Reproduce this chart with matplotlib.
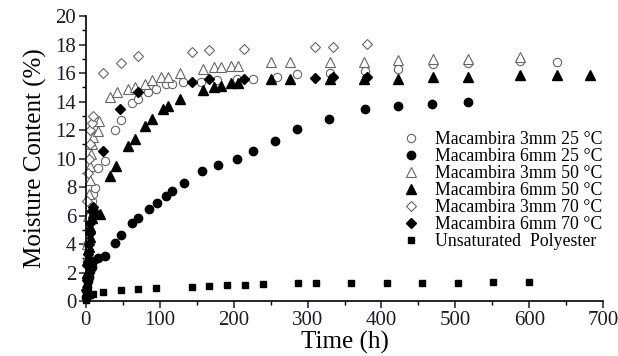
import matplotlib.pyplot as plt
from matplotlib.ticker import MultipleLocator

plt.rcParams["font.family"] = ["Liberation Serif", "DejaVu Serif"]

# Macambira 3mm 25 C (open circles)
t_3mm_25 = [1, 2, 3, 4, 6, 8, 10, 12, 16, 26, 39, 47, 62, 70, 84, 95, 108, 117, 131,
            156, 178, 204, 226, 258, 286, 330, 378, 422, 470, 517, 587, 637]
m_3mm_25 = [1.5, 2.8, 4.0, 5.0, 6.2, 7.0, 7.5, 7.9, 9.3, 9.8, 12.0, 12.7, 13.9, 14.2, 14.7,
            14.9, 15.2, 15.2, 15.4, 15.4, 15.5, 15.6, 15.6, 15.7, 15.9, 16.0, 16.15, 16.3,
            16.6, 16.7, 16.85, 16.8]

# Macambira 6mm 25 C (filled circles)
t_6mm_25 = [0.5, 1, 2, 3, 4, 6, 8, 10, 16, 26, 39, 48, 62, 70, 85, 96, 108, 117, 133,
            157, 179, 204, 226, 256, 286, 329, 378, 422, 469, 517]
m_6mm_25 = [0.3, 0.6, 1.0, 1.4, 1.7, 2.1, 2.4, 2.8, 3.05, 3.15, 4.1, 4.6, 5.5, 5.8, 6.45,
            6.9, 7.4, 7.75, 8.3, 9.15, 9.55, 9.95, 10.5, 11.2, 12.1, 12.8, 13.5, 13.7,
            13.8, 14.0]

# Macambira 3mm 50 C (open triangles)
t_3mm_50 = [1, 2, 3, 4, 5, 6, 7, 8, 10, 12, 16, 18, 32, 42, 57, 66, 80, 90, 102, 111,
            127, 158, 173, 183, 197, 206, 251, 276, 330, 377, 422, 470, 517, 587]
m_3mm_50 = [2.0, 4.0, 6.0, 7.5, 8.5, 9.5, 10.3, 11.0, 11.5, 12.2, 11.9, 12.6, 14.3, 14.7,
            14.9, 15.0, 15.2, 15.5, 15.7, 15.7, 16.0, 16.3, 16.4, 16.4, 16.5, 16.5, 16.8,
            16.8, 16.8, 16.8, 16.9, 17.0, 17.0, 17.1]

# Macambira 6mm 50 C (filled triangles)
t_6mm_50 = [1, 2, 3, 4, 5, 6, 8, 10, 12, 19, 32, 41, 57, 66, 80, 90, 104, 111, 128, 158,
            173, 183, 197, 206, 251, 276, 330, 377, 422, 470, 517, 587, 637, 682]
m_6mm_50 = [1.0, 2.0, 3.0, 3.8, 4.5, 5.2, 5.8, 6.2, 6.4, 6.1, 8.8, 9.5, 10.9, 11.4, 12.3,
            12.8, 13.5, 13.7, 14.2, 14.8, 15.0, 15.1, 15.3, 15.3, 15.6, 15.6, 15.6, 15.6,
            15.6, 15.7, 15.7, 15.85, 15.85, 15.85]

# Macambira 3mm 70 C (open diamonds)
t_3mm_70 = [1, 2, 3, 4, 5, 6, 8, 10, 23, 48, 70, 143, 167, 214, 310, 334, 380]
m_3mm_70 = [4.0, 7.0, 9.0, 10.0, 11.0, 12.0, 12.5, 13.0, 16.0, 16.7, 17.2, 17.5, 17.6,
            17.7, 17.8, 17.8, 18.05]

# Macambira 6mm 70 C (filled diamonds)
t_6mm_70 = [0.5, 1, 2, 3, 4, 5, 6, 8, 10, 23, 46, 70, 143, 167, 214, 310, 334, 380]
m_6mm_70 = [0.8, 1.5, 2.5, 3.3, 4.0, 4.8, 5.5, 6.3, 6.6, 10.5, 13.5, 14.7, 15.4, 15.6,
            15.6, 15.65, 15.7, 15.7]

# Unsaturated polyester (filled squares)
t_poly = [0.5, 1, 2, 4, 6, 9.5, 23, 47, 71, 95, 143, 167, 191, 215, 239, 287, 311, 359,
          407, 455, 503, 551, 599]
m_poly = [0.1, 0.2, 0.3, 0.4, 0.45, 0.5, 0.65, 0.8, 0.85, 0.9, 1.0, 1.05, 1.1, 1.12, 1.17,
          1.25, 1.25, 1.25, 1.28, 1.28, 1.28, 1.3, 1.3]

fig = plt.figure(figsize=(6.18, 3.56), dpi=100)
ax = fig.add_axes([0.139, 0.1545, 0.837, 0.8005])

open_kw = dict(linestyle="none", markerfacecolor="white", markeredgecolor="#666666",
               markeredgewidth=0.8, clip_on=False)
fill_kw = dict(linestyle="none", color="black", clip_on=False)

ax.plot(t_3mm_25, m_3mm_25, marker="o", markersize=6, label="Macambira 3mm 25 °C", **open_kw)
ax.plot(t_6mm_25, m_6mm_25, marker="o", markersize=6, label="Macambira 6mm 25 °C", **fill_kw)
ax.plot(t_3mm_50, m_3mm_50, marker="^", markersize=6.5, label="Macambira 3mm 50 °C", **open_kw)
ax.plot(t_6mm_50, m_6mm_50, marker="^", markersize=6.5, label="Macambira 6mm 50 °C", **fill_kw)
ax.plot(t_3mm_70, m_3mm_70, marker="D", markersize=5, label="Macambira 3mm 70 °C", **open_kw)
ax.plot(t_6mm_70, m_6mm_70, marker="D", markersize=5, label="Macambira 6mm 70 °C", **fill_kw)
ax.plot(t_poly, m_poly, marker="s", markersize=5, label="Unsaturated  Polyester", **fill_kw)

ax.set_xlim(0, 700)
ax.set_ylim(0, 20)
ax.xaxis.set_major_locator(MultipleLocator(100))
ax.xaxis.set_minor_locator(MultipleLocator(50))
ax.yaxis.set_major_locator(MultipleLocator(2))
ax.yaxis.set_minor_locator(MultipleLocator(1))
ax.tick_params(which="major", direction="out", length=5, width=1.1, labelsize=15,
               colors="#1c1c2c", pad=2)
ax.tick_params(which="minor", direction="out", length=3, width=1.0)
for side in ("top", "right"):
    ax.spines[side].set_visible(False)
for side in ("left", "bottom"):
    ax.spines[side].set_linewidth(1.2)

ax.set_xlabel("Time (h)", fontsize=18, labelpad=1)
ax.set_ylabel("Moisture Content (%)", fontsize=18, labelpad=6)

ax.legend(loc="upper left", bbox_to_anchor=(0.650, 0.632), bbox_transform=fig.transFigure,
          frameon=False, fontsize=12.8, handlelength=1.0, handletextpad=0.9,
          labelspacing=0.0, borderpad=0, borderaxespad=0, numpoints=1)

fig.savefig("out.png", dpi=100)
